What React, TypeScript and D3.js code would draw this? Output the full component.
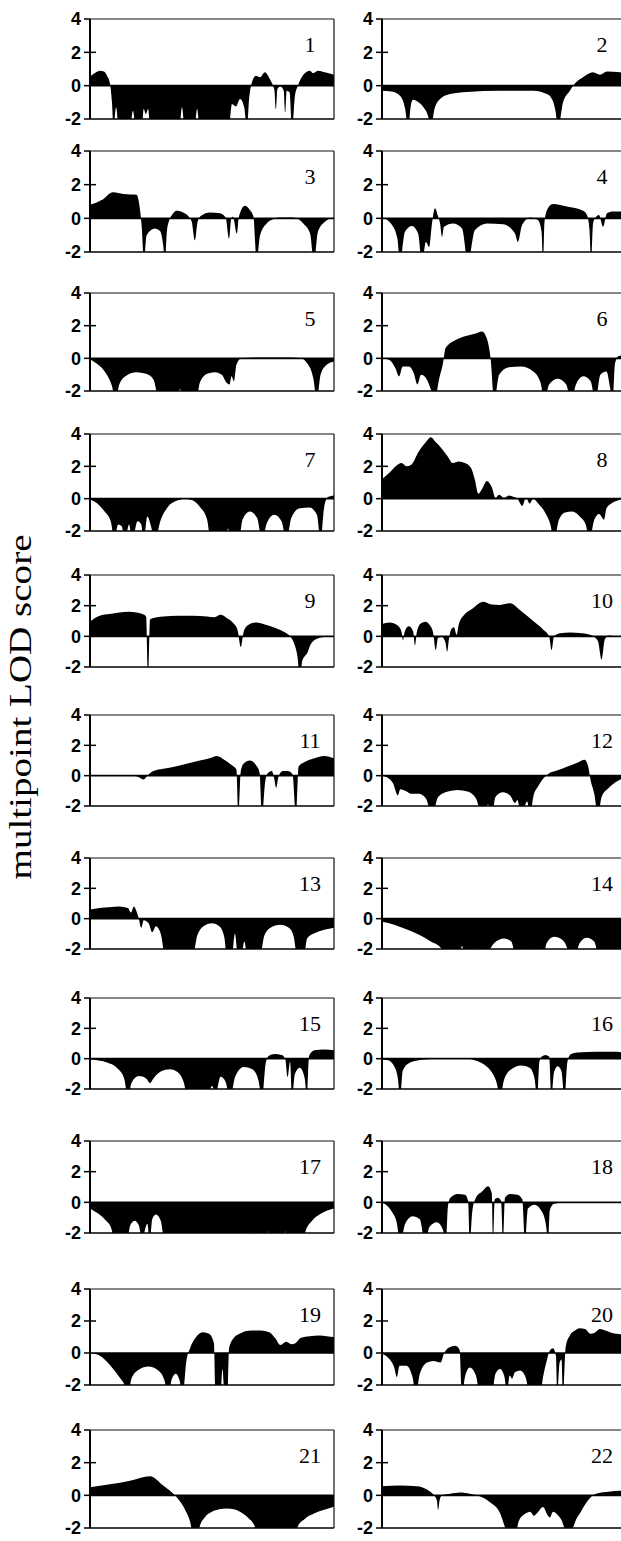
import React from 'react';
import * as d3 from 'd3';

type Pt = [number, number];

// x = relative map position (0-100 across each panel), y = multipoint LOD score
const chr1: Pt[] = [[0,0.55],[2.5,0.8],[4.1,0.9],[5.7,0.85],[7,0.6],[8.2,0.1],[9,-1],[9.6,-2.6],[10.7,-1.3],[11.8,-2.6],[16.4,-2.6],[17.6,-1.5],[18.8,-2.6],[21.2,-2.6],[22,-1.4],[22.9,-1.7],[23.8,-1.4],[24.8,-2.6],[36.6,-2.6],[37.7,-1.3],[38.8,-2.6],[42.8,-2.6],[43.9,-1.4],[45,-2.6],[56.8,-2.6],[58.2,-1.1],[59.8,-1.25],[61.5,-0.8],[63.2,-1.3],[64.3,-2.6],[65.2,-0.8],[66,0],[68,0.6],[69.7,0.5],[71.7,0.8],[73.5,0.45],[75,0],[75.6,-0.3],[76.2,-1.4],[76.8,-0.2],[78,-0.05],[79.4,-0.3],[80,-1.6],[80.6,-0.3],[81.8,-0.4],[82.8,-2.6],[84,-0.6],[85.2,0],[87.7,0.7],[90.2,0.9],[91.4,0.75],[93.4,0.9],[96.3,0.8],[100,0.65]];
const chr2: Pt[] = [[0,-0.3],[4,-0.35],[7.4,-0.6],[9.5,-1.4],[10.7,-2.6],[11.8,-1.2],[12.7,-0.85],[14.5,-0.95],[17,-1.3],[19,-1.9],[20,-2.6],[21.5,-1.4],[23.8,-0.8],[27.9,-0.5],[34.8,-0.38],[48.4,-0.3],[62,-0.3],[67.6,-0.5],[70,-0.9],[71.2,-1.6],[72.1,-2.6],[74.2,-1.0],[77,-0.3],[78.3,0],[82.4,0.5],[86.5,0.8],[89.3,0.65],[92.2,0.85],[97.5,0.8],[100,0.75]];
const chr3: Pt[] = [[0,0.8],[5,1.1],[9.4,1.55],[13.7,1.45],[19.1,1.4],[20.5,0.5],[21.2,-0.5],[22.1,-2.6],[23.2,-1.0],[26.6,-0.6],[28.7,-0.75],[30,-1.6],[30.7,-2.6],[31.5,-0.8],[32.5,-0.1],[33.6,0.2],[35.5,0.45],[38.2,0.35],[40.5,0.1],[41.7,-0.2],[43,-1.3],[44.1,-0.2],[45.5,0.15],[49.2,0.35],[53.3,0.3],[55.6,0.05],[57,-1.2],[57.9,0],[58.6,0.1],[60.2,-0.9],[61,0.1],[63.5,0.75],[65.5,0.5],[67,0.1],[68.3,-2.6],[69.7,-1],[72.4,-0.3],[75,-0.05],[77.9,0.05],[83.2,0.05],[87.4,-0.3],[90.2,-0.9],[91.8,-2.6],[93.4,-0.8],[96.3,-0.2],[100,0.05]];
const chr4: Pt[] = [[0,0.05],[4.1,-0.4],[6.3,-1.2],[7.4,-2.6],[9.4,-0.8],[12.3,-0.45],[14.8,-0.9],[16.4,-2.6],[18,-1.4],[19.3,-1.7],[20.5,-0.3],[21.7,0.6],[23,0.1],[23.8,-0.3],[24.6,-1.1],[25.4,-0.5],[29.1,-0.3],[32.8,-0.6],[35.2,-2.6],[38.1,-0.7],[43,-0.3],[49.6,-0.35],[54.5,-0.9],[55.7,-1.4],[57.4,-0.4],[60.7,0.05],[63.9,-0.1],[65.4,-0.8],[66,-2.6],[66.6,-0.2],[68,0.6],[70.1,0.85],[75.8,0.7],[82.4,0.45],[84,0.2],[85,-0.6],[85.7,-2.6],[86.5,-0.3],[87.3,0],[88.9,0.2],[90.6,-0.5],[92.2,0.3],[94.7,0.4],[100,0.4]];
const chr5: Pt[] = [[0,-0.05],[3,-0.35],[6,-0.8],[9,-1.7],[10.5,-2.6],[12,-1.6],[15,-1.05],[19,-0.85],[23,-0.95],[26,-1.3],[28.5,-2.6],[35,-2.6],[36.9,-1.9],[38.5,-2.6],[43.5,-2.6],[45,-1.5],[48,-0.95],[51,-0.85],[54,-1.0],[56,-1.5],[57.2,-1.6],[58,-1.1],[59,-1.4],[60,-0.4],[62,0],[70,0.05],[80,0.05],[86,0.02],[89,-0.3],[91.5,-1.2],[93,-2.6],[94.5,-1.0],[97,-0.4],[100,-0.2]];
const chr6: Pt[] = [[0,0],[3,-0.1],[5.5,-0.6],[7,-1.1],[8.5,-0.5],[11,-0.5],[13,-0.9],[14.5,-1.6],[16,-1.0],[18,-1.2],[20,-1.9],[21.5,-2.6],[23.5,-1.2],[25,-0.3],[26,0.6],[30,1.1],[34,1.35],[38,1.5],[41,1.65],[43,1.2],[44.5,0],[46,-2.6],[48,-1.0],[52,-0.55],[57,-0.5],[62,-0.8],[65,-1.5],[66.5,-2.6],[68.5,-1.6],[72,-1.25],[75.5,-1.6],[77.5,-2.6],[79.5,-1.6],[82.5,-1.1],[85.5,-1.4],[87.5,-2.6],[89.5,-1.0],[92,-0.8],[93.5,-1.8],[94.5,-2.6],[95.5,-0.3],[97,0.15],[100,0.2]];
const chr7: Pt[] = [[0,-0.05],[3,-0.3],[6,-0.8],[8.5,-1.4],[10,-2.6],[11.5,-1.6],[13,-1.7],[14.3,-2.6],[16,-1.6],[17.3,-2.6],[19.5,-1.4],[21,-1.6],[22,-2.6],[23.5,-1.1],[25,-1.7],[26.5,-2.6],[29,-1.3],[32,-0.5],[36,-0.1],[39,0],[42,-0.1],[45,-0.5],[48,-1.3],[49.5,-2.6],[55.5,-2.6],[56.6,-1.85],[57.6,-2.6],[61,-2.6],[62.5,-1.3],[65.5,-0.8],[68.5,-1.2],[70.5,-2.6],[72.5,-1.5],[75.5,-1.0],[78.5,-1.4],[80.5,-2.6],[82.5,-1.2],[86,-0.6],[90,-0.55],[93,-1.0],[94.5,-2.6],[96,-0.5],[97.5,0.1],[100,0.2]];
const chr8: Pt[] = [[0,1.2],[3,1.6],[6,2.05],[8,2.2],[10,2.0],[12,2.1],[15,2.9],[18,3.5],[20,3.8],[22,3.5],[25,3.0],[27,2.6],[29,2.2],[31.5,2.3],[34,2.2],[36.5,1.9],[38,1.2],[39.5,0.3],[41,0.6],[43,1.1],[45,0.7],[46.5,0.05],[48,0.25],[50,0.05],[52,0.2],[54,0.1],[55.5,0],[57.5,-0.45],[59,0.05],[60.5,-0.3],[62,0],[64,-0.3],[67,-0.9],[69,-1.6],[70.5,-2.6],[72.5,-1.3],[75,-0.85],[78,-0.8],[81,-1.1],[83.5,-1.6],[85,-2.6],[87,-1.3],[89,-0.95],[91,-1.3],[92,-0.6],[94,-0.3],[97,-0.1],[100,0]];
const chr9: Pt[] = [[0,0.95],[2,1.2],[4,1.35],[8,1.45],[12,1.55],[16,1.6],[19,1.55],[21.5,1.45],[23,1.3],[23.8,-2.6],[24.6,1.1],[26,1.2],[30,1.3],[36,1.35],[42,1.35],[48,1.3],[51,1.25],[53.5,1.4],[56,1.2],[58.5,0.9],[60.5,0.4],[61.8,-0.7],[63,0.3],[65,0.75],[68,0.9],[72,0.75],[76,0.55],[80,0.25],[82,0],[83.5,-0.4],[85,-1.3],[86,-2.6],[87,-1.6],[88,-1.3],[89,-1.1],[90.5,-0.5],[93,-0.15],[96,-0.05],[100,-0.05]];
const chr10: Pt[] = [[0,0.8],[3,0.9],[6,0.75],[8,0.3],[8.6,-0.25],[9.3,0.3],[11,0.65],[12.8,0.3],[13.5,-0.6],[14.3,0.3],[16,0.85],[17.8,0.95],[19.7,0.7],[21,0.2],[22,-0.9],[23,-0.1],[24.5,-0.05],[26,-0.4],[26.7,-1.0],[27.5,-0.1],[28.5,0.5],[29.5,0.6],[30.6,0.1],[31.5,0.8],[34,1.45],[37,1.8],[41.5,2.25],[44.3,2.1],[48.4,2.05],[52.5,2.15],[56.6,1.7],[62,1.0],[66,0.45],[68.5,0],[69.5,-0.9],[70.5,0],[73,0.2],[77,0.25],[82,0.2],[86,0.05],[88.5,-0.3],[90,-1.5],[91.3,-0.2],[93,0.05],[96,0],[100,0.05]];
const chr11: Pt[] = [[0,0.05],[10,0.05],[18,0],[20,-0.1],[22,-0.25],[23.5,0],[26,0.3],[30,0.45],[35,0.6],[40,0.8],[45,1.0],[49,1.15],[52,1.3],[55,1.05],[58,0.7],[60,0.4],[60.8,-2.6],[61.8,0.3],[63,0.8],[65.5,1.0],[68,0.7],[69.5,0.2],[70.5,-2.6],[71.8,-0.4],[73,0.2],[74.5,0.3],[75.5,-0.2],[76.3,-0.8],[77.2,-0.1],[79,0.3],[81,0.3],[83,0.1],[84.4,-2.6],[85.5,0.6],[88,0.9],[92,1.15],[96,1.3],[100,1.15]];
const chr12: Pt[] = [[0,0],[2,-0.1],[4.5,-0.5],[6.5,-1.3],[7.5,-0.9],[9.5,-1.0],[12,-1.2],[15,-1.2],[18,-1.5],[20.5,-2.6],[23,-1.4],[27,-1.05],[31,-0.95],[35,-1.05],[38.5,-1.5],[41,-2.6],[43.5,-1.9],[45,-2.6],[46.5,-1.4],[49.5,-1.1],[52.5,-1.3],[54.5,-1.8],[55.5,-1.6],[57,-2.6],[59.5,-1.7],[60.7,-2.6],[62,-1.4],[64,-0.7],[66,-0.2],[68,0.1],[72,0.35],[76,0.6],[80,0.85],[83,1.05],[84.5,0.6],[85.5,-0.3],[87,-1.2],[88.5,-2.6],[90,-1.4],[93,-0.8],[96,-0.4],[100,-0.1]];
const chr13: Pt[] = [[0,0.6],[4,0.7],[8,0.75],[12,0.8],[15.5,0.7],[16.8,0.4],[18,0.8],[19,0.5],[20,0],[21,-0.6],[22,-0.1],[24,-0.3],[25.5,-0.9],[27,-0.5],[29,-1.0],[31,-2.6],[42,-2.6],[44,-1.1],[47,-0.45],[50,-0.3],[53,-0.5],[55,-1.2],[56.2,-2.6],[58,-2.6],[59.4,-1.0],[60.7,-2.6],[61.8,-2.6],[63.3,-1.5],[64.5,-2.6],[69.5,-2.6],[71.5,-1.1],[74.5,-0.55],[78,-0.4],[81.5,-0.6],[83.5,-1.2],[85,-2.6],[87.5,-2.6],[89,-1.3],[93,-0.9],[97,-0.7],[100,-0.6]];
const chr14: Pt[] = [[0,-0.2],[5,-0.4],[10,-0.7],[15,-1.05],[20,-1.5],[24,-1.9],[26,-2.6],[31.5,-2.6],[32.8,-1.8],[34,-2.6],[38,-2.6],[39.3,-1.95],[40.5,-2.6],[44,-2.05],[46,-1.6],[50,-1.3],[53,-1.5],[55,-2.6],[61,-2.6],[62,-1.95],[63,-2.6],[66,-2.6],[67.5,-1.6],[70.5,-1.2],[74,-1.4],[76,-2.0],[77,-2.6],[79,-2.6],[81,-1.6],[84,-1.25],[87,-1.5],[89,-2.6],[100,-2.6]];
const chr15: Pt[] = [[0,-0.05],[3,-0.1],[7,-0.25],[11,-0.6],[14,-1.3],[15.6,-2.6],[17,-1.6],[20,-1.15],[23,-1.3],[24.6,-1.6],[26,-1.3],[29,-0.85],[32.8,-0.7],[36,-0.9],[38.5,-1.6],[40,-2.6],[48,-2.6],[50,-1.8],[51.5,-2.3],[53.5,-1.2],[55.5,-1.5],[57.4,-2.6],[59.5,-1.2],[63,-0.55],[66.5,-0.7],[69,-1.4],[70.5,-2.6],[72,-0.3],[73,0.15],[75.8,0.3],[78.5,0.25],[80,0],[81,-1.2],[82,-0.2],[82.8,-2.6],[84,-1.0],[86,-0.6],[88,-1.3],[88.9,-2.6],[89.8,0.2],[92,0.55],[96,0.6],[100,0.55]];
const chr16: Pt[] = [[0,-0.05],[2.5,-0.1],[5,-0.5],[6.5,-1.3],[7.4,-2.6],[8.5,-0.8],[11,-0.3],[15,-0.1],[20,-0.02],[27,0.05],[33,0.02],[38,-0.1],[42,-0.4],[45,-0.9],[47,-1.6],[48.4,-2.6],[50,-1.4],[53,-0.7],[57,-0.45],[60.5,-0.6],[62.5,-1.3],[63.6,-2.6],[64.5,-0.2],[65.5,0.15],[67,0.25],[68.5,0.15],[69.4,-2.6],[70.5,-0.9],[72,-0.5],[73.5,-0.8],[74.8,-2.6],[76,-0.2],[77.5,0.3],[80,0.4],[88,0.45],[95,0.45],[100,0.4]];
const chr17: Pt[] = [[0,-0.4],[3,-0.7],[6,-1.1],[8.5,-1.6],[10.5,-2.6],[15,-2.6],[16.5,-1.5],[18.3,-1.2],[20,-1.5],[21.5,-2.6],[22.5,-1.8],[23.5,-1.4],[24.5,-2.6],[25.5,-1.1],[27,-0.8],[29,-1.2],[30.7,-2.6],[64.5,-2.6],[65.6,-1.95],[66.7,-2.6],[72,-2.6],[73,-1.9],[74,-2.6],[79,-2.6],[80,-1.9],[81,-2.6],[87,-2.6],[88.5,-1.8],[91,-1.2],[94,-0.8],[97,-0.55],[100,-0.4]];
const chr18: Pt[] = [[0,-0.05],[2,-0.2],[4,-0.6],[6,-1.3],[7.5,-2.6],[9.5,-1.4],[12.5,-0.9],[15.5,-1.1],[17.6,-2.6],[19.5,-1.6],[22.5,-1.3],[25,-1.8],[26.2,-2.6],[27,-0.3],[28,0.3],[31,0.55],[34,0.5],[35.3,0.1],[36,-2.6],[37,-0.6],[38.5,0.3],[41,0.7],[43.5,1.05],[45,0.6],[45.5,-2.6],[46.2,0.2],[47.5,0.3],[48.8,0.1],[49.6,-2.6],[50.4,0.3],[52.5,0.55],[55.5,0.5],[57.5,0.2],[58.6,-2.6],[59.8,-0.4],[62.5,-0.15],[65.5,-0.6],[67.3,-1.6],[68,-2.6],[68.8,-0.5],[70.5,-0.1],[75,0],[85,0],[100,0]];
const chr19: Pt[] = [[0,-0.02],[3,-0.1],[6,-0.4],[9,-0.9],[12,-1.5],[14.5,-2.1],[15.6,-2.6],[17,-1.6],[20,-1.05],[24,-0.85],[28,-1.1],[30.5,-1.7],[32,-2.6],[33.6,-1.6],[35.2,-1.3],[36.7,-1.7],[38,-2.6],[39.5,-0.5],[41,0.3],[43.5,1.0],[46.3,1.3],[48.8,1.2],[50.8,0.6],[51.5,-2.6],[53.5,-2.6],[54.3,-1.0],[55.1,-2.6],[56.3,-2.6],[57,0.3],[59,0.95],[62,1.25],[66,1.4],[70,1.4],[73.5,1.3],[76,0.9],[78,0.5],[80.5,0.7],[82.5,0.55],[84,0.6],[86.5,0.95],[90,1.05],[94,1.1],[97,1.05],[100,1.0]];
const chr20: Pt[] = [[0,-0.05],[2.5,-0.3],[5,-0.9],[6.1,-1.5],[7.2,-0.8],[10,-0.8],[12.5,-1.5],[13.9,-2.6],[15.5,-1.3],[18.5,-0.6],[21,-0.5],[24,-0.6],[25.5,0],[27.5,0.35],[30,0.45],[31.8,0.2],[32.8,-2.6],[34,-1.5],[36,-0.9],[38.5,-1.4],[40.2,-2.6],[45,-2.6],[46.5,-1.3],[48.4,-1.0],[50.2,-1.5],[51.2,-2.6],[52.3,-1.4],[53.3,-1.6],[54.5,-1.2],[56.6,-1.1],[58.8,-1.5],[60.7,-2.6],[64.8,-2.6],[66,-1.5],[67.5,-0.5],[68.8,0.15],[70.1,0.3],[71.3,-0.2],[71.8,-2.6],[72.8,-0.6],[73.6,-0.4],[74.2,-2.6],[75.3,0.4],[77,1.1],[79.1,1.4],[81,1.55],[83.2,1.5],[85.5,1.2],[87,1.25],[89.3,1.5],[91.5,1.4],[93.4,1.3],[96,1.2],[100,1.15]];
const chr21: Pt[] = [[0,0.5],[16.4,0.9],[24.6,1.17],[30,0.6],[34.8,0],[37,-0.4],[39,-0.9],[41,-1.6],[42.5,-2.6],[44,-2.6],[45,-1.9],[47,-1.35],[50,-1.0],[53,-0.85],[56,-0.8],[59,-0.85],[62,-1.05],[65,-1.4],[67.5,-1.9],[68.5,-2.6],[84,-2.6],[85,-1.95],[88,-1.45],[92,-1.1],[96,-0.88],[100,-0.7]];
const chr22: Pt[] = [[0,0.55],[7.4,0.6],[14.3,0.55],[18.4,0.35],[21,0.05],[22.5,-0.3],[23,-0.9],[23.6,-0.3],[24.6,0],[28,0.1],[32,0.18],[36,0.1],[39,0],[44,-0.4],[48.4,-1.1],[50.5,-2.0],[52,-2.6],[54.5,-2.6],[56,-1.6],[58.5,-1.15],[60.7,-1.0],[62.3,-1.25],[63.5,-1.1],[66,-0.72],[67.8,-1.2],[68.8,-1.35],[70.1,-1.0],[72,-1.2],[73.5,-1.5],[75,-2.1],[76.5,-2.6],[78,-2.1],[79.5,-1.5],[81.5,-1.0],[84,-0.4],[86.5,0],[89,0.15],[92,0.2],[97,0.28],[100,0.3]];

const chromosomes = [chr1, chr2, chr3, chr4, chr5, chr6, chr7, chr8, chr9, chr10, chr11,
  chr12, chr13, chr14, chr15, chr16, chr17, chr18, chr19, chr20, chr21, chr22];
const chromNames = ['1', '2', '3', '4', '5', '6', '7', '8', '9', '10', '11',
  '12', '13', '14', '15', '16', '17', '18', '19', '20', '21', '22'];
const yTicks = [4, 2, 0, -2];

// page layout (rows of two panels)
const rowTops = [19, 151, 293, 434, 575, 715, 858, 998, 1141, 1289, 1430];
const rowHeights = [100, 101, 98, 97, 92, 91, 91, 91, 92, 96, 98];
const colLeft = [90, 382];
const panelW = 244;

function Panel({ data, name, x0, top, h }: { data: Pt[]; name: string; x0: number; top: number; h: number }) {
  const x = d3.scaleLinear().domain([0, 100]).range([x0, x0 + panelW]);
  const y = d3.scaleLinear().domain([-2, 4]).range([top + h, top]);
  const area = d3.area<Pt>()
    .x(d => x(d[0]))
    .y0(y(0))
    .y1(d => y(d[1]))
    .curve(d3.curveMonotoneX);
  const clipId = 'clip' + name;
  return (
    <g>
      <clipPath id={clipId}>
        <rect x={x0} y={top} width={panelW} height={h} />
      </clipPath>
      <path d={area(data) || ''} fill="#000" clipPath={`url(#${clipId})`} />
      <line x1={x0} x2={x0 + panelW} y1={y(0)} y2={y(0)} stroke="#000" strokeWidth={1.6} />
      {/* frame */}
      <line x1={x0} x2={x0 + panelW} y1={top} y2={top} stroke="#111" strokeWidth={1.1} />
      <line x1={x0} x2={x0 + panelW} y1={top + h} y2={top + h} stroke="#000" strokeWidth={1.5} />
      <line x1={x0 + panelW} x2={x0 + panelW} y1={top} y2={top + h} stroke="#111" strokeWidth={1.2} />
      <line x1={x0} x2={x0} y1={top} y2={top + h} stroke="#000" strokeWidth={2} />
      {yTicks.map(t => (
        <g key={t}>
          <line x1={x0 - 6} x2={x0 + (t === 2 ? 6 : 0)} y1={y(t)} y2={y(t)} stroke="#000" strokeWidth={1.5} />
          <text x={x0 - 9} y={y(t)} dy="0.36em" textAnchor="end"
            fontFamily="'Liberation Sans', Arial, sans-serif" fontWeight="bold" fontSize={18}>{t}</text>
        </g>
      ))}
      <text x={x0 + panelW - 24} y={top + 33} textAnchor="middle"
        fontFamily="'Liberation Serif', 'Times New Roman', serif" fontSize={22}>{name}</text>
    </g>
  );
}

export default function App() {
  return (
    <div style={{ position: 'absolute', left: 0, top: 0 }}>
      <svg width={621} height={1541} style={{ display: 'block', background: '#fff' }}>
        {chromosomes.map((data, i) => {
          const row = Math.floor(i / 2);
          return (
            <Panel key={i} data={data} name={chromNames[i]} x0={colLeft[i % 2]}
              top={rowTops[row]} h={rowHeights[row]} />
          );
        })}
        <text transform="translate(31,707) rotate(-90)" textAnchor="middle"
          textLength={345} lengthAdjust="spacingAndGlyphs"
          fontFamily="'Liberation Serif', 'Times New Roman', serif" fontSize={31}>multipoint LOD score</text>
      </svg>
    </div>
  );
}
